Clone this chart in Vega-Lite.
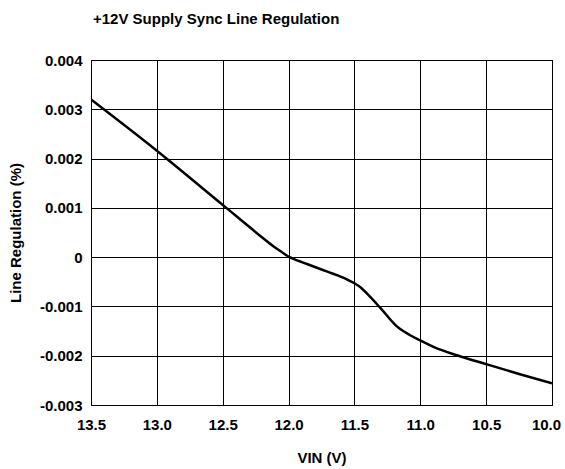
{
  "$schema": "https://vega.github.io/schema/vega-lite/v6.json",
  "width": 461,
  "height": 345,
  "autosize": {"type": "none"},
  "padding": {"left": 91, "top": 60, "right": 13, "bottom": 64},
  "background": "white",
  "config": {
    "font": "Liberation Sans",
    "view": {"stroke": "black", "strokeWidth": 1}
  },
  "title": {
    "text": "+12V Supply Sync Line Regulation",
    "anchor": "start",
    "frame": "group",
    "fontSize": 15,
    "fontWeight": "bold",
    "color": "black",
    "baseline": "alphabetic",
    "offset": 14,
    "dx": 2
  },
  "data": {
    "values": [
      {"vin": 13.5, "reg": 0.0032},
      {"vin": 13.0, "reg": 0.00216},
      {"vin": 12.5, "reg": 0.00106},
      {"vin": 12.2, "reg": 0.0004},
      {"vin": 12.1, "reg": 0.00019},
      {"vin": 12.05, "reg": 0.0001},
      {"vin": 12.0, "reg": 0.00001},
      {"vin": 11.95, "reg": -0.00005},
      {"vin": 11.9, "reg": -0.0001},
      {"vin": 11.8, "reg": -0.0002},
      {"vin": 11.7, "reg": -0.0003},
      {"vin": 11.6, "reg": -0.0004},
      {"vin": 11.55, "reg": -0.00046},
      {"vin": 11.5, "reg": -0.00053},
      {"vin": 11.45, "reg": -0.00062},
      {"vin": 11.4, "reg": -0.00075},
      {"vin": 11.3, "reg": -0.00104},
      {"vin": 11.18, "reg": -0.0014},
      {"vin": 11.08, "reg": -0.00158},
      {"vin": 11.0, "reg": -0.00169},
      {"vin": 10.9, "reg": -0.00182},
      {"vin": 10.7, "reg": -0.00201},
      {"vin": 10.5, "reg": -0.00217},
      {"vin": 10.25, "reg": -0.00237},
      {"vin": 10.0, "reg": -0.00256}
    ]
  },
  "mark": {"type": "line", "color": "black", "strokeWidth": 2.5, "interpolate": "monotone", "clip": true},
  "encoding": {
    "x": {
      "field": "vin",
      "type": "quantitative",
      "scale": {"domain": [10, 13.5], "reverse": true, "nice": false, "zero": false},
      "axis": {
        "values": [13.5, 13.0, 12.5, 12.0, 11.5, 11.0, 10.5, 10.0],
        "format": ".1f",
        "title": "VIN (V)",
        "titleFontSize": 15,
        "titleFontWeight": "bold",
        "titleColor": "black",
        "titleBaseline": "alphabetic",
        "titleY": 57,
        "labelFontSize": 15,
        "labelFontWeight": "bold",
        "labelColor": "black",
        "labelPadding": 12,
        "labelOffset": {"condition": {"test": "datum.value < 10.01", "value": -6}, "value": 0},
        "ticks": false,
        "domainColor": "black",
        "gridColor": "black",
        "gridOpacity": 1,
        "gridWidth": 1,
        "labelFlush": false
      }
    },
    "y": {
      "field": "reg",
      "type": "quantitative",
      "scale": {"domain": [-0.003, 0.004], "nice": false, "zero": false},
      "axis": {
        "values": [-0.003, -0.002, -0.001, 0, 0.001, 0.002, 0.003, 0.004],
        "labelExpr": "abs(datum.value) < 1e-9 ? '0' : replace(format(datum.value, '.3f'), '\u2212', '-')",
        "title": "Line Regulation (%)",
        "titleFontSize": 15,
        "titleFontWeight": "bold",
        "titleColor": "black",
        "titleAngle": -90,
        "titleAlign": "center",
        "titleBaseline": "middle",
        "titleX": -76,
        "titleY": 172.5,
        "labelFontSize": 15,
        "labelFontWeight": "bold",
        "labelColor": "black",
        "labelPadding": 9,
        "ticks": false,
        "domainColor": "black",
        "gridColor": "black",
        "gridOpacity": 1,
        "gridWidth": 1,
        "labelFlush": false
      }
    }
  }
}
